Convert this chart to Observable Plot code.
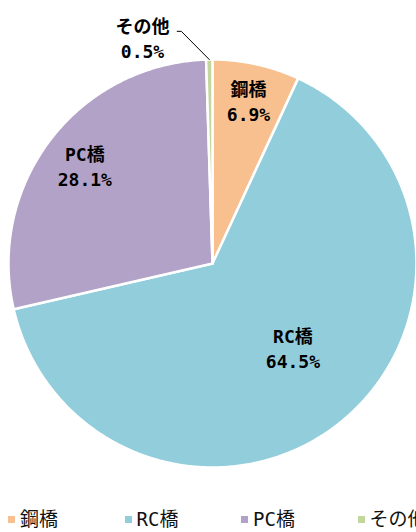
<!DOCTYPE html>
<html>
<head>
<meta charset="utf-8">
<script src="https://cdn.jsdelivr.net/npm/d3@7"></script>
<script src="https://cdn.jsdelivr.net/npm/@observablehq/plot@0.6"></script>
<style>
  html, body { margin: 0; padding: 0; background: #fff; overflow: hidden; }
  #wrap { position: relative; width: 416px; height: 532px; overflow: hidden; }
  #legend { position: absolute; left: 0; top: 490px; width: 416px; height: 42px; }
  .li { position: absolute; top: 18px; white-space: nowrap; font-family: "DejaVu Sans Mono", "Noto Sans CJK JP", sans-serif; font-size: 19px; color: #111; line-height: 22px; }
  .sw { display: inline-block; width: 7px; height: 7px; margin-right: 5px; vertical-align: 3px; }
</style>
</head>
<body>
<div id="wrap"><div id="chart"></div><div id="legend"></div></div>
<script>
// ---- data ----
const names = ["鋼橋", "RC橋", "PC橋", "その他"];
const shares = [6.9, 64.5, 28.1, 0.5];
const colors = ["#F9C08F", "#92CDDC", "#B2A2C7", "#C3D69B"];

// ---- layout (label placement in polar terms) ----
const labelR = [0.82, 0.57, 0.79, 1.16];
const labelShiftDeg = [0, -4.7, 0, -16.3];

const total = d3.sum(shares);
let acc = 0;
const slices = names.map((n, i) => {
  const a0 = acc / total * 2 * Math.PI;
  acc += shares[i];
  const a1 = acc / total * 2 * Math.PI;
  return {name: n, value: shares[i], a0, a1, mid: (a0 + a1) / 2, i};
});
const polar = (a, r) => ({x: Math.sin(a) * r, y: Math.cos(a) * r});

const pts = [];
for (const s of slices) {
  pts.push({name: s.name, ...polar(0, 0)});
  const n = Math.max(2, Math.ceil((s.a1 - s.a0) / (Math.PI / 360)));
  for (let k = 0; k <= n; k++) pts.push({name: s.name, ...polar(s.a0 + (s.a1 - s.a0) * k / n, 1)});
  pts.push({name: s.name, ...polar(0, 0)});
}

const labels = slices.map(s => {
  const p = polar(s.mid + labelShiftDeg[s.i] * Math.PI / 180, labelR[s.i]);
  return {...p, text: `${s.name}\n${s.value.toFixed(1)}%`};
});

// leader line for the small slice
const small = slices[3];
const la = labels[3];
const leader = [
  {x: la.x + 0.17, y: la.y + 0.03},
  {x: la.x + 0.19, y: la.y + 0.03},
  polar(small.mid, 1.0)
];

const chart = Plot.plot({
  width: 416,
  height: 490,
  marginLeft: 8,
  marginRight: 0,
  marginTop: 59,
  marginBottom: 23,
  x: {domain: [-1, 1], axis: null},
  y: {domain: [-1, 1], axis: null},
  color: {domain: names, range: colors},
  style: {background: "transparent"},
  marks: [
    Plot.line(pts, {x: "x", y: "y", z: "name", fill: "name", stroke: "white", strokeWidth: 2.5, strokeLinejoin: "round", curve: "linear"}),
    Plot.line(leader, {x: "x", y: "y", stroke: "#000", strokeWidth: 1}),
    Plot.text(labels, {x: "x", y: "y", text: "text", fontSize: 18, fontWeight: "bold", lineHeight: 1.4, fill: "#000",
      fontFamily: "'DejaVu Sans Mono', 'Noto Sans CJK JP', sans-serif"})
  ]
});
document.getElementById("chart").appendChild(chart);

// legend
const lg = document.getElementById("legend");
names.forEach((n, i) => {
  const d = document.createElement("div");
  d.className = "li";
  d.style.left = (8 + i * 116.5) + "px";
  d.innerHTML = `<span class="sw" style="background:${colors[i]}"></span>${n}`;
  lg.appendChild(d);
});
</script>
</body>
</html>
